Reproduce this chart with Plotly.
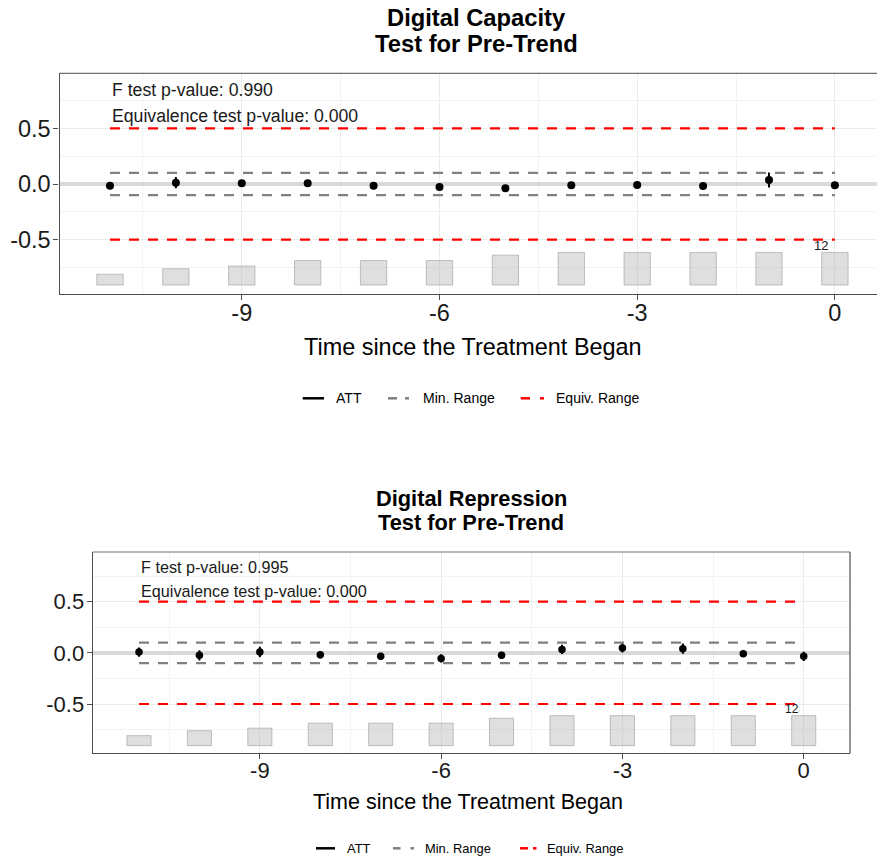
import plotly.graph_objects as go

W, H = 877, 858

# ---- data -------------------------------------------------------------
periods = list(range(-11, 1))
treated_counts = [4, 6, 7, 9, 9, 9, 11, 12, 12, 12, 12, 12]

capacity_att = [-0.015, 0.012, 0.006, 0.006, -0.015, -0.027, -0.039, -0.012, -0.009, -0.018, 0.036, -0.010]
capacity_ci = [0.020, 0.050, 0.030, 0.025, 0.020, 0.020, 0.020, 0.020, 0.020, 0.015, 0.068, 0.020]

repression_att = [0.008, -0.024, 0.008, -0.018, -0.034, -0.054, -0.024, 0.034, 0.047, 0.041, -0.008, -0.034]
repression_ci = [0.045, 0.050, 0.052, 0.036, 0.036, 0.040, 0.035, 0.045, 0.043, 0.050, 0.020, 0.045]

min_range = 0.1
equiv_range = 0.5
bar_floor = -0.907
bar_span = 0.293

panels = [
    dict(title="Digital Capacity", att=capacity_att, ci=capacity_ci,
         f_p="0.990", eq_p="0.000"),
    dict(title="Digital Repression", att=repression_att, ci=repression_ci,
         f_p="0.995", eq_p="0.000"),
]

# ---- geometry (pixels) -------------------------------------------------
FONT = "Liberation Sans, Arial, sans-serif"
geo = [
    dict(x0=59.5, x1=877, y0=73.3, y1=294.3, xr=[-11.766, 0.639], yr=[-0.99, 0.994],
         scale=1.09, tick_size=23.5, title_x=476, title_y=(18, 43), xtitle_y=347, legend_y=398.3,
         leg=dict(att=(302.7, 324, 335), minr=(388, 397, 405, 409, 421.7), eq=(520.7, 530, 540, 544, 555)),
         mirror_y=False),
    dict(x0=92.7, x1=850, y0=552, y1=753.3, xr=[-11.766, 0.766], yr=[-0.982, 0.986],
         scale=1.0, tick_size=22, title_x=471.4, title_y=(498, 522.5), xtitle_y=802, legend_y=848.3,
         leg=dict(att=(316, 335, 345.7), minr=(393, 400.5, 410.5, 414, 424), eq=(520, 528, 533, 536.5, 545.7)),
         mirror_y=True),
]


def px(x):
    return x / W


def py(y):
    return 1 - y / H


fig = go.Figure()
annotations = []
shapes = []

for i, (p, g) in enumerate(zip(panels, geo)):
    xa = "x" if i == 0 else "x2"
    ya = "y" if i == 0 else "y2"
    s = g["scale"]

    # number of treated units at each period
    max_count = max(treated_counts)
    fig.add_trace(go.Bar(
        x=periods, y=[c / max_count * bar_span for c in treated_counts], base=bar_floor,
        width=0.4, marker=dict(color="rgba(179,179,179,0.42)",
                               line=dict(color="rgba(128,128,128,0.45)", width=1)),
        xaxis=xa, yaxis=ya, showlegend=False, hoverinfo="skip"))

    # equivalence range
    for sign in (1, -1):
        fig.add_trace(go.Scatter(
            x=[periods[0], periods[-1]], y=[sign * equiv_range] * 2, mode="lines",
            line=dict(color="#ff0000", width=2.2, dash="10px,9px"),
            xaxis=xa, yaxis=ya, showlegend=False, hoverinfo="skip"))
    # minimum range
    for sign in (1, -1):
        fig.add_trace(go.Scatter(
            x=[periods[0], periods[-1]], y=[sign * min_range] * 2, mode="lines",
            line=dict(color="#808080", width=2.2, dash="10px,9px"),
            xaxis=xa, yaxis=ya, showlegend=False, hoverinfo="skip"))

    # ATT estimates with confidence intervals
    fig.add_trace(go.Scatter(
        x=periods, y=p["att"], mode="markers",
        marker=dict(color="black", size=8 if i == 0 else 7.5),
        error_y=dict(type="data", array=p["ci"], thickness=2, width=0, color="black"),
        xaxis=xa, yaxis=ya, showlegend=False))

    # max count label
    annotations.append(dict(
        x=periods[-1] - 0.2, y=bar_floor + bar_span + 0.065, xref=xa, yref=ya,
        text=str(max(treated_counts)), showarrow=False,
        font=dict(family=FONT, size=12 * s, color="#1a1a1a")))

    # test p-values
    annotations.append(dict(
        x=periods[0], y=0.842, xref=xa, yref=ya, xanchor="left", yanchor="middle",
        text=f"F test p-value: {p['f_p']}", showarrow=False,
        font=dict(family=FONT, size=16.2 * s, color="#1a1a1a")))
    annotations.append(dict(
        x=periods[0], y=0.607, xref=xa, yref=ya, xanchor="left", yanchor="middle",
        text=f"Equivalence test p-value: {p['eq_p']}", showarrow=False,
        font=dict(family=FONT, size=16.2 * s, color="#1a1a1a")))

    # titles
    cx = g["title_x"]
    annotations.append(dict(
        x=px(cx), y=py(g["title_y"][0]), xref="paper", yref="paper", yanchor="middle",
        text=f"<b>{p['title']}</b>", showarrow=False,
        font=dict(family=FONT, size=21.8 * s, color="black")))
    annotations.append(dict(
        x=px(cx), y=py(g["title_y"][1]), xref="paper", yref="paper", yanchor="middle",
        text="<b>Test for Pre-Trend</b>", showarrow=False,
        font=dict(family=FONT, size=21.8 * s, color="black")))
    annotations.append(dict(
        x=px(cx - 3), y=py(g["xtitle_y"]), xref="paper", yref="paper", yanchor="middle",
        text="Time since the Treatment Began", showarrow=False,
        font=dict(family=FONT, size=21.5 * s, color="black")))

    # legend keys
    ly = py(g["legend_y"])
    lw = 2.5
    a0, a1, atx = g["leg"]["att"]
    shapes.append(dict(type="line", xref="paper", yref="paper", x0=px(a0), x1=px(a1),
                       y0=ly, y1=ly, line=dict(color="black", width=lw)))
    for key, color, label in (("minr", "#808080", "Min. Range"), ("eq", "#ff0000", "Equiv. Range")):
        d0, d1, e0, e1, tx = g["leg"][key]
        shapes.append(dict(type="line", xref="paper", yref="paper", x0=px(d0), x1=px(d1),
                           y0=ly, y1=ly, line=dict(color=color, width=lw)))
        shapes.append(dict(type="line", xref="paper", yref="paper", x0=px(e0), x1=px(e1),
                           y0=ly, y1=ly, line=dict(color=color, width=lw)))
        annotations.append(dict(x=px(tx), y=ly, xref="paper", yref="paper", xanchor="left",
                                yanchor="middle", text=label, showarrow=False, borderpad=0,
                                font=dict(family=FONT, size=12.9 * s, color="black")))
    annotations.append(dict(x=px(atx), y=ly, xref="paper", yref="paper", xanchor="left",
                            yanchor="middle", text="ATT", showarrow=False, borderpad=0,
                            font=dict(family=FONT, size=12.9 * s, color="black")))

    # top border of the panel
    shapes.append(dict(type="line", xref="paper", yref="paper", x0=px(g["x0"]), x1=px(g["x1"]),
                       y0=py(g["y0"]), y1=py(g["y0"]), line=dict(color="#6e6e6e", width=1.2)))
    if g["mirror_y"]:
        shapes.append(dict(type="line", xref="paper", yref="paper", x0=px(g["x1"]), x1=px(g["x1"]),
                           y0=py(g["y0"]), y1=py(g["y1"]), line=dict(color="#4d4d4d", width=1.2)))

axis_common = dict(showline=True, linecolor="#4d4d4d", linewidth=1.2, ticks="outside",
                   ticklen=5, tickcolor="#4d4d4d", tickwidth=1.2,
                   gridcolor="#ebebeb", gridwidth=1, showgrid=True)

for i, g in enumerate(geo):
    xkey = "xaxis" if i == 0 else "xaxis2"
    ykey = "yaxis" if i == 0 else "yaxis2"
    fig.update_layout(**{
        xkey: dict(axis_common, domain=[px(g["x0"]), px(g["x1"])], range=g["xr"],
                   anchor="y" if i == 0 else "y2", tickmode="array",
                   tickvals=[-9, -6, -3, 0], ticktext=["-9", "-6", "-3", "0"],
                   zeroline=False, ticklabelstandoff=-8,
                   minor=dict(tickmode="array", tickvals=[-10.5, -7.5, -4.5, -1.5],
                              showgrid=True, gridcolor="#f2f2f2", gridwidth=1, ticks=""),
                   tickfont=dict(family=FONT, size=g["tick_size"], color="#1a1a1a")),
        ykey: dict(axis_common, domain=[py(g["y1"]), py(g["y0"])], range=g["yr"],
                   anchor="x" if i == 0 else "x2", tickmode="array",
                   tickvals=[-0.5, 0, 0.5], ticktext=["-0.5", "0.0", "0.5"],
                   zeroline=True, zerolinecolor="#d9d9d9", zerolinewidth=4,
                   ticklabelstandoff=-2,
                   minor=dict(tickmode="array", tickvals=[-0.75, -0.25, 0.25, 0.75],
                              showgrid=True, gridcolor="#f2f2f2", gridwidth=1, ticks=""),
                   tickfont=dict(family=FONT, size=g["tick_size"], color="#1a1a1a")),
    })

fig.update_layout(
    width=W, height=H, margin=dict(l=0, r=0, t=0, b=0),
    paper_bgcolor="white", plot_bgcolor="white",
    annotations=annotations, shapes=shapes, showlegend=False,
)

fig.write_html("out.html")
